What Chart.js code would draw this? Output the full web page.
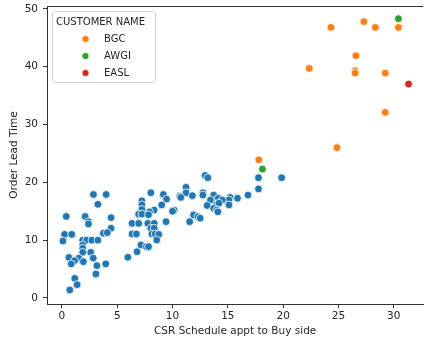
<!DOCTYPE html>
<html>
<head>
<meta charset="utf-8">
<script src="https://cdn.jsdelivr.net/npm/chart.js@4/dist/chart.umd.min.js"></script>
<style>
  html, body { margin: 0; padding: 0; background: #fff; }
  #wrap { width: 428px; height: 341px; }
</style>
</head>
<body>
<div id="wrap"><canvas id="c" width="428" height="341"></canvas></div>
<script>
// CSR schedule appt to buy side (x) vs order lead time (y), by customer
const otherPoints = [
  [2.85,17.9],[4.0,17.9],[3.25,16.2],[0.39,14.1],[2.1,14.1],[2.4,13.2],[2.4,12.8],[4.44,13.9],
  [4.44,12.06],[3.75,11.2],[4.1,11.3],[0.24,11.0],[0.89,11.0],[0.09,9.86],[1.88,10.0],[2.23,10.0],
  [2.71,10.0],[3.25,10.0],[1.88,9.17],[1.88,8.6],[1.88,7.9],[2.6,7.9],[0.63,7.0],[1.52,6.87],
  [1.13,6.45],[0.84,5.9],[1.94,6.28],[2.83,6.9],[3.16,5.6],[3.96,5.9],[3.07,4.15],[1.16,3.4],
  [1.37,2.3],[0.71,1.38],
  [8.04,18.2],[9.17,17.9],[9.46,17.1],[10.66,17.6],[7.23,16.8],[7.23,16.1],[7.23,15.3],[9.02,16.1],
  [10.15,15.2],[10.0,15.0],[8.34,15.2],[7.92,14.9],[6.94,14.5],[7.23,14.5],[7.83,14.4],[9.41,13.2],
  [6.34,12.9],[6.94,12.9],[7.77,12.9],[8.34,12.9],[8.04,12.06],[8.34,12.06],[6.34,11.07],[6.73,11.07],
  [8.13,11.07],[8.43,11.07],[8.75,11.0],[8.57,10.03],[7.14,9.17],[7.63,8.88],[7.83,8.88],[6.79,8.0],
  [5.96,7.04],
  [12.95,21.2],[13.19,20.8],[17.77,20.8],[19.86,20.8],[17.77,18.86],[11.22,19.15],[11.22,18.2],
  [10.75,17.4],[11.79,17.7],[12.74,18.2],[12.74,17.8],[13.72,17.8],[16.82,17.8],[15.87,17.25],
  [15.2,17.4],[15.1,16.95],[14.14,17.25],[14.5,16.95],[13.43,16.95],[13.13,16.0],[14.0,16.2],
  [14.2,16.4],[13.72,15.5],[14.0,15.2],[14.1,14.9],[15.1,16.1],[11.9,14.36],[12.3,14.07],
  [12.5,13.8],[11.55,13.2]
];
const bgcPoints = [
  [30.42,46.8],[27.3,47.8],[28.34,46.8],[24.32,46.8],[26.58,41.9],[22.36,39.7],[26.5,39.3],
  [26.5,38.9],[29.23,38.9],[29.23,32.1],[24.86,26.0],[17.8,23.9]
];
const awgiPoints = [[30.42,48.3],[18.13,22.3]];
const easlPoints = [[31.34,37.0]];

const customerNames = ['BGC', 'AWGI', 'EASL'];
const xTicks = [0, 5, 10, 15, 20, 25, 30];
const yTicks = [0, 10, 20, 30, 40, 50];

const FONT = 'DejaVu Sans';
const TEXT = '#262626';
const SPINE = '#333333';

const toXY = arr => arr.map(p => ({ x: p[0], y: p[1] }));
const pointStyle = color => ({
  backgroundColor: color,
  borderColor: '#ffffff',
  borderWidth: 0.8,
  pointRadius: 3.9,
  pointHoverRadius: 3.9
});

const datasets = [
  Object.assign({ label: '', data: toXY(otherPoints), showInLegend: false }, pointStyle('#1f77b4')),
  Object.assign({ label: customerNames[0], data: toXY(bgcPoints), showInLegend: true }, pointStyle('#ff7f0e')),
  Object.assign({ label: customerNames[1], data: toXY(awgiPoints), showInLegend: true }, pointStyle('#2ca02c')),
  Object.assign({ label: customerNames[2], data: toXY(easlPoints), showInLegend: true }, pointStyle('#d62728'))
];

// top spine and the in-plot legend box
const framePlugin = {
  id: 'frame',
  afterDraw(chart) {
    const { ctx, chartArea } = chart;
    ctx.save();
    ctx.strokeStyle = SPINE;
    ctx.lineWidth = 1;
    ctx.beginPath();
    ctx.moveTo(chartArea.left, chartArea.top + 0.5);
    ctx.lineTo(chartArea.right, chartArea.top + 0.5);
    ctx.stroke();

    // legend
    const bx = 52.5, by = 11.5, bw = 103, bh = 71, r = 3;
    ctx.fillStyle = 'rgba(255,255,255,0.8)';
    ctx.strokeStyle = '#d0d0d0';
    ctx.lineWidth = 1;
    ctx.beginPath();
    ctx.moveTo(bx + r, by);
    ctx.lineTo(bx + bw - r, by);
    ctx.arcTo(bx + bw, by, bx + bw, by + r, r);
    ctx.lineTo(bx + bw, by + bh - r);
    ctx.arcTo(bx + bw, by + bh, bx + bw - r, by + bh, r);
    ctx.lineTo(bx + r, by + bh);
    ctx.arcTo(bx, by + bh, bx, by + bh - r, r);
    ctx.lineTo(bx, by + r);
    ctx.arcTo(bx, by, bx + r, by, r);
    ctx.closePath();
    ctx.fill();
    ctx.stroke();

    ctx.fillStyle = TEXT;
    ctx.font = '10px "' + FONT + '"';
    ctx.textBaseline = 'middle';
    ctx.textAlign = 'left';
    ctx.fillText('CUSTOMER NAME', 56, 22);
    const entries = chart.data.datasets.filter(d => d.showInLegend);
    entries.forEach((d, i) => {
      const y = 39 + i * 17;
      ctx.beginPath();
      ctx.arc(85.5, y, 3.6, 0, Math.PI * 2);
      ctx.fillStyle = d.backgroundColor;
      ctx.fill();
      ctx.strokeStyle = '#fff';
      ctx.lineWidth = 0.8;
      ctx.stroke();
      ctx.fillStyle = TEXT;
      ctx.fillText(d.label, 104, y);
    });
    ctx.restore();
  }
};

new Chart(document.getElementById('c'), {
  type: 'scatter',
  data: { datasets },
  options: {
    responsive: false,
    animation: false,
    events: [],
    layout: { padding: { top: 6, right: 0, left: 0, bottom: 0 } },
    plugins: { legend: { display: false }, tooltip: { enabled: false } },
    scales: {
      x: {
        type: 'linear',
        min: -1.35,
        max: 32.67,
        afterBuildTicks: s => { s.ticks = xTicks.map(v => ({ value: v })); },
        afterFit: s => { s.height = 37; s.paddingLeft = 0; s.paddingRight = 0; },
        grid: { display: true, drawOnChartArea: false, drawTicks: true, tickLength: 4, color: SPINE, tickWidth: 1 },
        border: { display: true, color: SPINE, width: 1 },
        ticks: { color: TEXT, font: { family: FONT, size: 10.5 }, padding: 2, maxRotation: 0 },
        title: { display: true, text: 'CSR Schedule appt to Buy side', color: TEXT,
                 font: { family: FONT, size: 10.5 }, padding: { top: 0, bottom: 3 } }
      },
      y: {
        type: 'linear',
        min: -1.04,
        max: 50.5,
        afterBuildTicks: s => { s.ticks = yTicks.map(v => ({ value: v })); },
        afterFit: s => { s.width = 47; s.paddingTop = 0; s.paddingBottom = 0; },
        grid: { display: true, drawOnChartArea: false, drawTicks: true, tickLength: 4, color: SPINE, tickWidth: 1 },
        border: { display: true, color: SPINE, width: 1 },
        ticks: { color: TEXT, font: { family: FONT, size: 10.5 }, padding: 5 },
        title: { display: true, text: 'Order Lead Time', color: TEXT,
                 font: { family: FONT, size: 10.5 }, padding: { top: 8, bottom: 0 } }
      }
    }
  },
  plugins: [framePlugin]
});
</script>
</body>
</html>
